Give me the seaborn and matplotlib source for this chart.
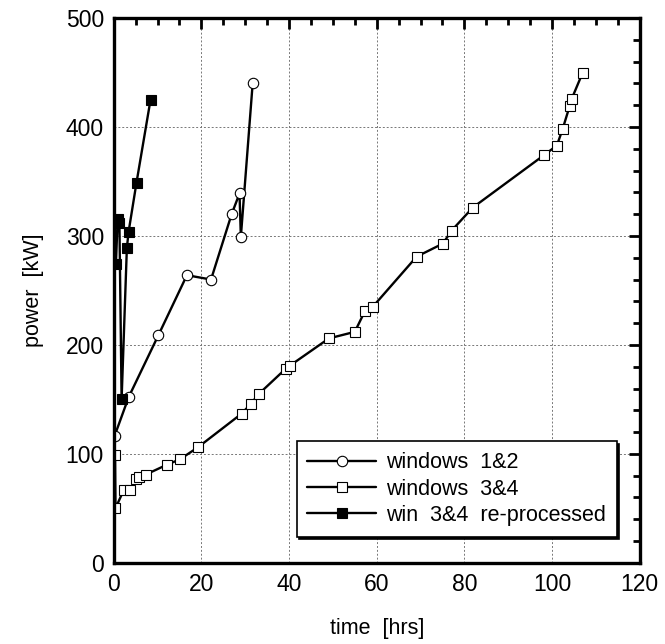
"""Power vs time for the window conditioning runs."""

import matplotlib
matplotlib.use("Agg")
import matplotlib.pyplot as plt
import numpy as np
import pandas as pd
import seaborn as sns

# windows 1&2 (open circles)
w12_time = [0.2, 0.2, 3.4, 10.2, 16.7, 22.2, 26.9, 28.7, 29.0, 31.7]
w12_power = [114, 119, 152, 209, 264, 260, 320, 339, 299, 440]

# windows 3&4 (open squares)
w34_time = [0.3, 0.4, 2.3, 3.7, 5.0, 5.7, 7.3, 12.1, 15.1, 19.2, 29.2, 31.3,
            33.1, 39.2, 40.2, 49.1, 55.0, 57.3, 59.1, 69.1, 75.1, 77.1, 81.9,
            98.1, 101.1, 102.4, 104.0, 104.5, 107.0]
w34_power = [99, 50, 67, 67, 77, 79, 81, 90, 95, 106, 137, 146,
             155, 178, 181, 206, 212, 231, 235, 281, 293, 305, 326,
             374, 383, 398, 419, 426, 450]

# win 3&4 re-processed (filled squares)
rep_time = [0.5, 0.9, 1.3, 1.8, 3.0, 3.4, 5.2, 8.4]
rep_power = [274, 316, 312, 150, 289, 304, 349, 425]

labels = ["windows  1&2", "windows  3&4", "win  3&4  re-processed"]

sns.set_style("white")
plt.rcParams["font.family"] = ["Liberation Sans", "DejaVu Sans"]
for key in ["text.color", "axes.labelcolor", "xtick.color", "ytick.color"]:
    plt.rcParams[key] = "black"

fig = plt.figure(figsize=(6.65, 6.44), dpi=100)
ax = fig.add_axes([0.171, 0.126, 0.791, 0.846])

common = dict(sort=False, color="black", linewidth=1.7, markersize=7.5,
              markeredgecolor="black", markeredgewidth=0.8, ax=ax)

sns.lineplot(x=w12_time, y=w12_power, marker="o", markerfacecolor="white",
             label=labels[0], **common)
sns.lineplot(x=w34_time, y=w34_power, marker="s", markerfacecolor="white",
             label=labels[1], **common)
sns.lineplot(x=rep_time, y=rep_power, marker="s", markerfacecolor="black",
             label=labels[2], **common)

ax.set_xlim(0, 120)
ax.set_ylim(0, 500)
ax.set_xticks(np.arange(0, 121, 20))
ax.set_yticks(np.arange(0, 501, 100))
ax.set_xticks(np.arange(0, 121, 5), minor=True)
ax.set_yticks(np.arange(0, 501, 20), minor=True)

ax.grid(True, which="major", color="#777777", linestyle=(0, (2, 2)), linewidth=0.7)
ax.tick_params(which="both", direction="in", top=True, right=True,
               labelsize=16.5, width=2)
ax.tick_params(which="major", length=8, pad=7)
ax.tick_params(which="minor", length=5)
for side in ax.spines.values():
    side.set_linewidth(2.4)
    side.set_color("black")

ax.set_xlabel("time  [hrs]", fontsize=15.5, labelpad=16)
ax.set_ylabel("power  [kW]", fontsize=15.5, labelpad=16)

leg = ax.legend(loc="lower right", bbox_to_anchor=(0.956, 0.048),
                borderaxespad=0, fancybox=False, fontsize=15.5,
                handlelength=3.2, handletextpad=0.45, labelspacing=0.25,
                borderpad=0.5, shadow={"color": "black", "alpha": 1})
leg.get_frame().set_edgecolor("black")
leg.get_frame().set_linewidth(1.2)
leg.get_frame().set_alpha(1)

fig.savefig("out.png", dpi=100)
